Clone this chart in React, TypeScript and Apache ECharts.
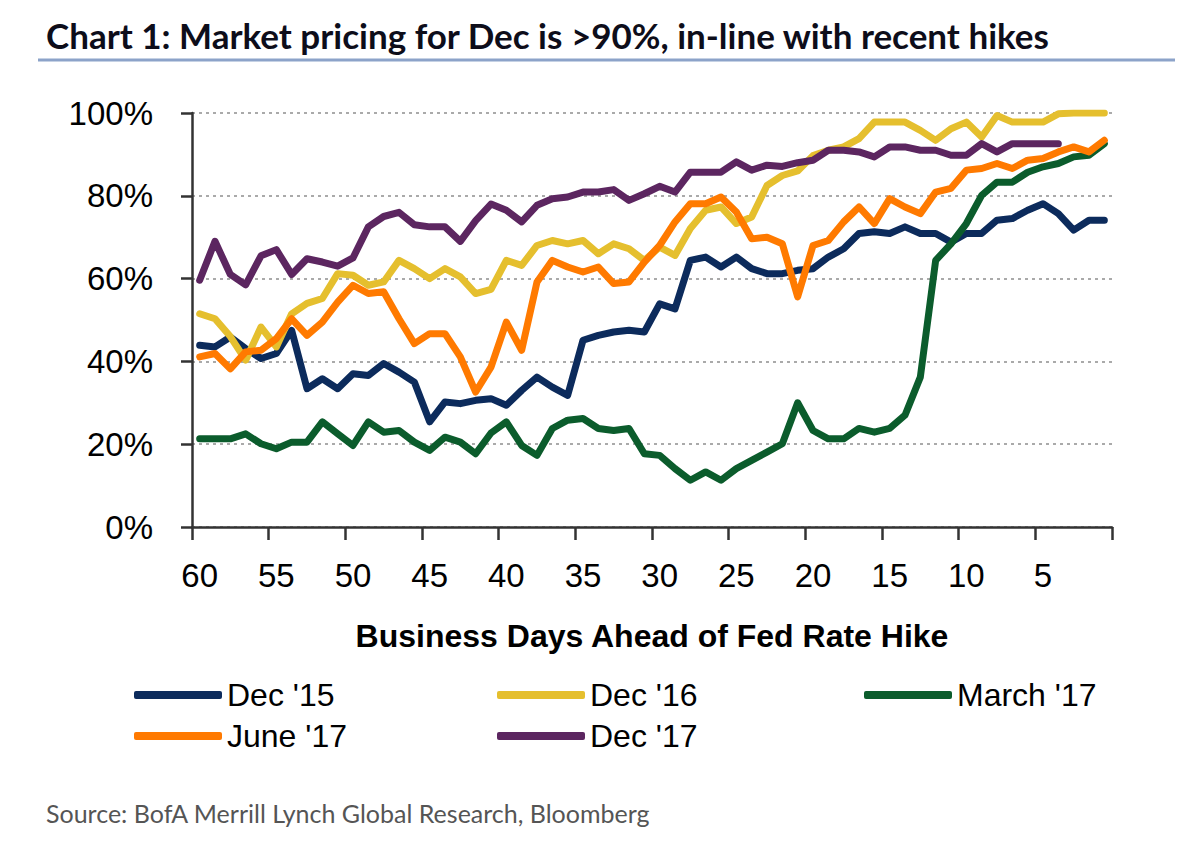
import React, { useEffect, useRef } from "react";
import * as echarts from "echarts";

const days: string[] = [];
for (let d = 60; d >= 1; d--) days.push(String(d));

const yTicks = [0, 20, 40, 60, 80, 100];

const dec15 = [
  43.9, 43.5, 45.9, 43.1, 40.7, 41.9, 47.5, 33.4, 35.8, 33.4,
  37, 36.6, 39.5, 37.4, 35, 25.4, 30.2, 29.8, 30.6, 31,
  29.4, 33, 36.2, 33.8, 31.8, 45.1, 46.3, 47.1, 47.5, 47.1,
  53.9, 52.7, 64.4, 65.2, 62.8, 65.2, 62.4, 61.2, 61.2, 62,
  62.4, 65.2, 67.2, 70.9, 71.3, 70.9, 72.5, 70.9, 70.9, 68.8,
  70.9, 70.9, 74.1, 74.5, 76.5, 78.1, 75.7, 71.7, 74.1, 74.1,
];
const dec16 = [
  51.5, 50.3, 46, 40.3, 48.3, 43.5, 51.5, 54, 55.2, 61.2,
  60.8, 58.4, 59.2, 64.4, 62.4, 60, 62.4, 60.4, 56.4, 57.4,
  64.4, 63.2, 68, 69.2, 68.4, 69.2, 66, 68.4, 67.2, 64.4,
  67.6, 65.6, 72.1, 76.5, 77.3, 73.3, 74.9, 82.5, 84.9, 86,
  89.7, 91, 91.8, 93.8, 97.8, 97.8, 97.8, 95.8, 93.4, 96.2,
  97.8, 94.2, 99.4, 97.8, 97.8, 97.8, 99.8, 100, 100, 100,
];
const march17 = [
  21.3, 21.3, 21.3, 22.5, 20.1, 18.9, 20.5, 20.5, 25.4, 22.5,
  19.7, 25.4, 22.9, 23.3, 20.5, 18.5, 21.7, 20.5, 17.7, 22.7,
  25.4, 19.7, 17.3, 23.8, 25.8, 26.2, 23.8, 23.3, 23.8, 17.7,
  17.3, 14.1, 11.3, 13.3, 11.3, 14.1, 16.1, 18.1, 20.1, 30,
  23.3, 21.3, 21.3, 23.8, 22.9, 23.8, 27, 36.2, 64.4, 68.4,
  73.3, 80.1, 83.3, 83.3, 85.7, 87, 87.8, 89.4, 89.8, 92.6,
];
const june17 = [
  41.1, 41.9, 38.2, 42.3, 42.7, 45.5, 50.3, 46.3, 49.5, 54.3,
  58.4, 56.4, 56.8, 50.3, 44.3, 46.7, 46.7, 41.1, 32.6, 38.6,
  49.5, 42.7, 59.2, 64.4, 62.8, 61.6, 62.8, 58.8, 59.2, 64,
  68, 73.7, 78.1, 78.1, 79.7, 76.1, 69.6, 70, 68.4, 55.6,
  68, 69.2, 73.7, 77.3, 73.3, 79.3, 77.3, 75.7, 80.9, 81.8,
  86.2, 86.6, 87.8, 86.6, 88.6, 89, 90.6, 91.8, 90.6, 93.4,
];
const dec17 = [
  59.6, 69, 61, 58.5, 65.5, 67, 61, 64.8, 64, 63,
  65, 72.5, 75, 76, 73, 72.5, 72.5, 69, 74, 78,
  76.5, 73.7, 77.7, 79.3, 79.7, 80.9, 80.9, 81.5, 78.9, 80.5,
  82.3, 80.9, 85.7, 85.7, 85.7, 88.2, 86.2, 87.4, 87.1, 88,
  88.6, 91, 91, 90.6, 89.4, 91.8, 91.8, 91, 91, 89.8,
  89.8, 92.6, 90.6, 92.6, 92.6, 92.6, 92.6, null, null, null,
];

const seriesNames = ["Dec '15", "Dec '16", "March '17", "June '17", "Dec '17"];
const seriesData = [dec15, dec16, march17, june17, dec17];
const seriesColors = ["#0C2B5C", "#E5BF2E", "#0B5C2C", "#FF7A00", "#5C2660"];

const TITLE = "Chart 1: Market pricing for Dec is >90%, in-line with recent hikes";
const SOURCE = "Source: BofA Merrill Lynch Global Research, Bloomberg";
const X_NAME = "Business Days Ahead of Fed Rate Hike";

const NARROW = "'Liberation Sans Narrow', 'Arial Narrow', 'Liberation Sans', Arial, sans-serif";
const HUMANIST = "Lato, 'Open Sans', 'Noto Sans', sans-serif";

const legendPos = [
  { left: 134, top: 676 },
  { left: 497, top: 676 },
  { left: 864, top: 676 },
  { left: 134, top: 717 },
  { left: 497, top: 717 },
];

export default function App() {
  const ref = useRef<HTMLDivElement>(null);
  useEffect(() => {
    if (!ref.current) return;
    const chart = echarts.init(ref.current, null, { renderer: "svg" });
    const option: any = {
      animation: false,
      backgroundColor: "#ffffff",
      textStyle: { fontFamily: NARROW },
      grid: { left: 192, right: 88, top: 113, bottom: 328, containLabel: false },
      xAxis: {
        type: "category",
        data: days,
        boundaryGap: true,
        name: X_NAME,
        nameLocation: "middle",
        nameGap: 93,
        nameTextStyle: { fontSize: 32, fontWeight: "bold", color: "#000", fontFamily: NARROW },
        axisLine: { show: true, lineStyle: { color: "#333", width: 2.5 } },
        axisTick: { show: true, interval: 4, length: 13, lineStyle: { color: "#333", width: 2.5 } },
        axisLabel: { interval: 4, fontSize: 33, color: "#000", margin: 32, fontFamily: NARROW },
        splitLine: { show: false },
      },
      yAxis: {
        type: "value",
        min: yTicks[0],
        max: yTicks[yTicks.length - 1],
        interval: 20,
        axisLabel: { formatter: "{value}%", fontSize: 33, color: "#000", margin: 39, fontFamily: NARROW },
        axisLine: { show: true, lineStyle: { color: "#333", width: 2.5 } },
        axisTick: { show: true, length: 11, lineStyle: { color: "#333", width: 2.5 } },
        splitLine: { show: true, lineStyle: { type: [3, 4], color: "#aaaaaa", width: 2 } },
      },
      legend: seriesNames.map((n, i) => ({
        data: [n],
        left: legendPos[i].left,
        top: legendPos[i].top,
        padding: 0,
        icon: "roundRect",
        itemWidth: 88,
        itemHeight: 8,
        textStyle: { fontSize: 32, color: "#000", fontFamily: NARROW, lineHeight: 38 },
      })),
      graphic: [
        {
          type: "text",
          left: 46,
          top: 17,
          style: { text: TITLE, fontSize: 35, fontWeight: "bold", fill: "#0d0d1a", fontFamily: HUMANIST },
        },
        {
          type: "line",
          shape: { x1: 38, y1: 60, x2: 1175, y2: 60 },
          style: { stroke: "#8CA3C9", lineWidth: 3 },
        },
        {
          type: "text",
          left: 46,
          top: 800,
          style: { text: SOURCE, fontSize: 25, fill: "#555", fontFamily: HUMANIST },
        },
      ],
      series: seriesNames.map((n, i) => ({
        name: n,
        type: "line",
        data: seriesData[i],
        showSymbol: false,
        symbol: "none",
        connectNulls: false,
        lineStyle: { color: seriesColors[i], width: 7, cap: "round", join: "round" },
        itemStyle: { color: seriesColors[i] },
      })),
    };
    chart.setOption(option);
    return () => chart.dispose();
  }, []);
  return (
    <div
      ref={ref}
      style={{ position: "fixed", left: 0, top: 0, width: 1200, height: 855, background: "#fff" }}
    />
  );
}
